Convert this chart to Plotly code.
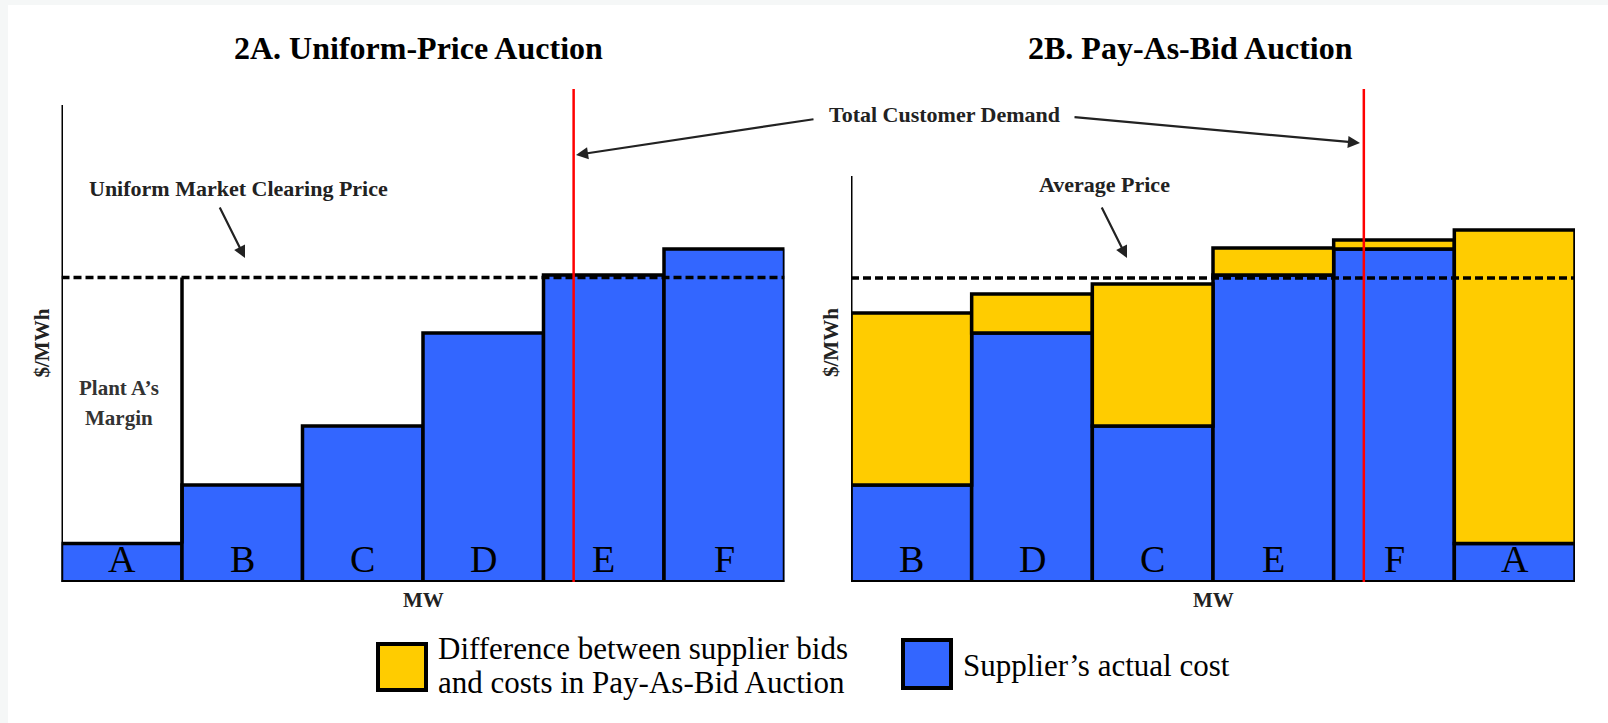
import plotly.graph_objects as go

# ---------------- data ----------------
suppliers = ["A", "B", "C", "D", "E", "F"]          # uniform-price merit order
supplier_cost = [3.85, 9.7, 15.6, 24.9, 30.7, 33.3]  # actual cost ($/MWh, arbitrary units)
capacity_mw = [1, 1, 1, 1, 1, 1]                     # each plant's MW block

pab_order = ["B", "D", "C", "E", "F", "A"]          # pay-as-bid order
pab_bid = [26.9, 28.8, 29.8, 33.4, 34.2, 35.2]       # bids in pay-as-bid auction

clearing_price = 30.45
average_price = 30.4
total_demand_mw = 4.25

panel_titles = ["2A. Uniform-Price Auction", "2B. Pay-As-Bid Auction"]
legend_labels = ["Difference between supplier bids", "and costs in Pay-As-Bid Auction",
                 "Supplier\u2019s actual cost"]

# ---------------- styling ----------------
W, H = 1608, 723
BLUE = "#3366ff"
YELLOW = "#ffcc00"
FONT = "Liberation Serif"
Y_TOP = 49.3


def px(x):
    return x / W


def py(y):
    return 1 - y / H


def centers(widths):
    out, acc = [], 0
    for w in widths:
        out.append(acc + w / 2)
        acc += w
    return out


total_mw = sum(capacity_mw)
left_x = centers(capacity_mw)
pab_cap = [capacity_mw[suppliers.index(s)] for s in pab_order]
right_x = centers(pab_cap)
pab_cost = [supplier_cost[suppliers.index(s)] for s in pab_order]
pab_diff = [b - c for b, c in zip(pab_bid, pab_cost)]

outline = dict(color="black", width=3.5)

fig = go.Figure()

# left panel
fig.add_trace(go.Bar(x=left_x, y=supplier_cost, width=capacity_mw,
                     marker=dict(color=BLUE, line=outline),
                     xaxis="x", yaxis="y", showlegend=False, hoverinfo="skip"))
fig.add_trace(go.Scatter(x=[capacity_mw[0], capacity_mw[0]],
                         y=[supplier_cost[0], clearing_price],
                         mode="lines", line=dict(color="black", width=3.5),
                         xaxis="x", yaxis="y", showlegend=False, hoverinfo="skip"))
fig.add_trace(go.Scatter(x=[0, total_mw], y=[clearing_price, clearing_price],
                         mode="lines", line=dict(color="black", width=3.5, dash="8px,4px"),
                         xaxis="x", yaxis="y", showlegend=False, hoverinfo="skip"))

# right panel
fig.add_trace(go.Bar(x=right_x, y=pab_cost, width=pab_cap,
                     marker=dict(color=BLUE, line=outline),
                     xaxis="x2", yaxis="y2", showlegend=False, hoverinfo="skip"))
fig.add_trace(go.Bar(x=right_x, y=pab_diff, base=pab_cost, width=pab_cap,
                     marker=dict(color=YELLOW, line=outline),
                     xaxis="x2", yaxis="y2", showlegend=False, hoverinfo="skip"))
fig.add_trace(go.Scatter(x=[0, total_mw], y=[average_price, average_price],
                         mode="lines", line=dict(color="black", width=3.5, dash="8px,4px"),
                         xaxis="x2", yaxis="y2", showlegend=False, hoverinfo="skip"))

hidden = dict(showgrid=False, zeroline=False, showticklabels=False, showline=False,
              ticks="", fixedrange=True)
ydom = [py(582), py(89)]

fig.update_layout(
    width=W, height=H,
    margin=dict(l=0, r=0, t=0, b=0),
    paper_bgcolor="#f5f7f7", plot_bgcolor="white",
    barmode="overlay",
    xaxis=dict(domain=[px(61.5), px(784.5)], range=[0, total_mw], **hidden),
    yaxis=dict(domain=ydom, range=[0, Y_TOP], **hidden),
    xaxis2=dict(domain=[px(851), px(1575)], range=[0, total_mw], anchor="y2", **hidden),
    yaxis2=dict(domain=ydom, range=[0, Y_TOP], anchor="x2", **hidden),
)

shapes = [
    dict(type="rect", xref="paper", yref="paper", x0=px(8), x1=1, y0=0, y1=py(5),
         fillcolor="white", line=dict(width=0), layer="below"),
    # y axis lines
    dict(type="line", xref="x", yref="y", x0=0, x1=0, y0=0, y1=47.7,
         line=dict(color="black", width=3)),
    dict(type="line", xref="x2", yref="y2", x0=0, x1=0, y0=0, y1=40.6,
         line=dict(color="black", width=3)),
    # x axis lines
    dict(type="line", xref="x", yref="y", x0=0, x1=total_mw, y0=0, y1=0,
         line=dict(color="black", width=4)),
    dict(type="line", xref="x2", yref="y2", x0=0, x1=total_mw, y0=0, y1=0,
         line=dict(color="black", width=4)),
    # demand lines
    dict(type="line", xref="x", yref="y", x0=total_demand_mw, x1=total_demand_mw, y0=0, y1=Y_TOP,
         line=dict(color="#ff0000", width=2.5)),
    dict(type="line", xref="x2", yref="y2", x0=total_demand_mw, x1=total_demand_mw, y0=0, y1=Y_TOP,
         line=dict(color="#ff0000", width=2.5)),
    # legend swatches
    dict(type="rect", xref="paper", yref="paper", x0=px(378), x1=px(426), y0=py(690), y1=py(644),
         fillcolor=YELLOW, line=dict(color="black", width=4)),
    dict(type="rect", xref="paper", yref="paper", x0=px(903), x1=px(951), y0=py(688), y1=py(640),
         fillcolor=BLUE, line=dict(color="black", width=4)),
]
fig.update_layout(shapes=shapes)

ann = []


def text(x, y, t, size, bold=False, color="black", **kw):
    d = dict(xref="paper", yref="paper", x=px(x), y=py(y), text=("<b>%s</b>" % t) if bold else t,
             showarrow=False, font=dict(family=FONT, size=size, color=color),
             xanchor=kw.pop("xanchor", "center"), yanchor=kw.pop("yanchor", "middle"))
    d.update(kw)
    ann.append(d)


def arrow(x0, y0, x1, y1):
    ann.append(dict(xref="paper", yref="paper", x=px(x1), y=py(y1), ax=x0 - x1, ay=y0 - y1,
                    text="", showarrow=True, arrowhead=2, arrowsize=1.1, arrowwidth=2.2,
                    arrowcolor="#222222", standoff=0))


# titles
text(418, 48, panel_titles[0], 32, bold=True)
text(1190, 48, panel_titles[1], 32, bold=True)

# bar letters
for cx, s in zip(left_x, suppliers):
    ann.append(dict(xref="x", yref="y", x=cx, y=2.3, text=s, showarrow=False,
                    font=dict(family=FONT, size=38, color="black")))
for cx, s in zip(right_x, pab_order):
    ann.append(dict(xref="x2", yref="y2", x=cx, y=2.3, text=s, showarrow=False,
                    font=dict(family=FONT, size=38, color="black")))

# axis labels
text(423, 600, "MW", 21, bold=True, color="#222222")
text(1213, 600, "MW", 21, bold=True, color="#222222")
text(41.5, 343, "$/MWh", 21, bold=True, color="#222222", textangle=-90)
text(831, 343, "$/MWh", 21, bold=True, color="#222222", textangle=-90)

# notes
text(238, 189, "Uniform Market Clearing Price", 22, bold=True, color="#222222")
arrow(219, 206, 245, 258)
text(1104, 185, "Average Price", 22, bold=True, color="#222222")
arrow(1101, 206, 1127, 258)
text(944, 114, "Total Customer Demand", 22, bold=True, color="#222222")
arrow(815, 119, 576, 155)
arrow(1073, 117, 1360, 143)
text(119, 388, "Plant A\u2019s", 21, bold=True, color="#333333")
text(119, 418, "Margin", 21, bold=True, color="#333333")

# legend text
text(436, 648, legend_labels[0], 31, xanchor="left")
text(436, 682, legend_labels[1], 31, xanchor="left")
text(961, 665, legend_labels[2], 31, xanchor="left")

fig.update_layout(annotations=ann)

fig.write_html("out.html",
               config={"displayModeBar": False},
               post_script="document.body.style.margin='0';"
                           "document.body.style.background='#f5f7f7';")
